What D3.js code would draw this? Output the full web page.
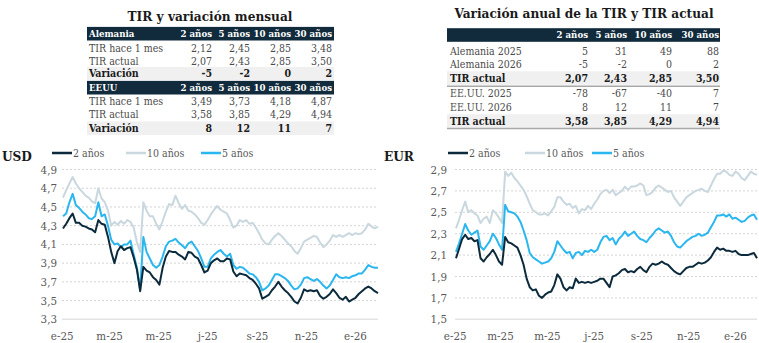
<!DOCTYPE html>
<html>
<head>
<meta charset="utf-8">
<script src="https://cdn.jsdelivr.net/npm/d3@7"></script>
<style>
  body { margin: 0; background: #fff; }
  text { font-family: "DejaVu Serif Condensed", "DejaVu Serif", serif; }
</style>
</head>
<body>
<svg id="chart" width="759" height="343"></svg>
<script>
// ---- tablas ----
const tenors = ["2 años", "5 años", "10 años", "30 años"];
const deHace1Mes = [2.12, 2.45, 2.85, 3.48];
const deActual = [2.07, 2.43, 2.85, 3.50];
const deVariacion = [-5, -2, 0, 2];
const usHace1Mes = [3.49, 3.73, 4.18, 4.87];
const usActual = [3.58, 3.85, 4.29, 4.94];
const usVariacion = [8, 12, 11, 7];
const de2025 = [5, 31, 49, 88];
const de2026 = [-5, -2, 0, 2];
const us2025 = [-78, -67, -40, 7];
const us2026 = [8, 12, 11, 7];

// ---- series (una muestra cada 4 días desde el 2-ene-2025) ----
const dates = d3.timeDay.range(new Date(2025, 0, 2), new Date(2026, 0, 30), 4);

const usd2y = [4.27, 4.32, 4.38, 4.43, 4.33, 4.33, 4.30, 4.29, 4.27, 4.26,
  4.23, 4.36, 4.32, 4.31, 4.18, 4.02, 3.90, 4.03, 4.08, 4.04,
  4.06, 4.07, 3.96, 3.83, 3.60, 3.86, 3.82, 3.80, 3.75, 3.72,
  3.67, 3.85, 3.97, 4.03, 4.02, 4.02, 3.99, 3.97, 3.94, 4.02,
  4.01, 3.97, 3.95, 3.88, 3.80, 3.82, 3.90, 3.93, 3.95, 3.92,
  3.92, 3.95, 3.94, 3.81, 3.76, 3.79, 3.78, 3.77, 3.74, 3.72,
  3.68, 3.63, 3.52, 3.54, 3.56, 3.61, 3.65, 3.70, 3.65, 3.61,
  3.58, 3.54, 3.49, 3.47, 3.53, 3.62, 3.60, 3.61, 3.60, 3.61,
  3.55, 3.52, 3.54, 3.57, 3.62, 3.58, 3.53, 3.51, 3.54, 3.49,
  3.51, 3.53, 3.57, 3.60, 3.63, 3.65, 3.63, 3.60, 3.58];
const usd5y = [4.40, 4.43, 4.55, 4.64, 4.52, 4.49, 4.45, 4.42, 4.38, 4.37,
  4.40, 4.55, 4.40, 4.42, 4.30, 4.15, 4.10, 4.11, 4.07, 4.10,
  4.10, 4.14, 3.99, 3.85, 3.62, 4.18, 4.02, 3.95, 3.88, 3.85,
  3.88, 3.97, 4.08, 4.13, 4.14, 4.16, 4.12, 4.09, 4.06, 4.11,
  4.13, 4.08, 4.03, 3.95, 3.86, 3.86, 3.95, 3.99, 4.02, 4.04,
  4.00, 3.97, 4.00, 3.88, 3.84, 3.86, 3.85, 3.82, 3.79, 3.78,
  3.75, 3.70, 3.61, 3.63, 3.66, 3.72, 3.78, 3.78, 3.76, 3.74,
  3.71, 3.66, 3.62, 3.63, 3.67, 3.74, 3.75, 3.73, 3.71, 3.73,
  3.70, 3.66, 3.63, 3.66, 3.72, 3.78, 3.75, 3.74, 3.75, 3.74,
  3.76, 3.77, 3.79, 3.79, 3.83, 3.88, 3.86, 3.85, 3.85];
const usd10y = [4.60, 4.68, 4.75, 4.82, 4.75, 4.70, 4.66, 4.62, 4.60, 4.56,
  4.54, 4.70, 4.59, 4.55, 4.46, 4.30, 4.34, 4.31, 4.35, 4.32,
  4.36, 4.34, 4.28, 4.12, 4.02, 4.55, 4.46, 4.40, 4.40, 4.32,
  4.26, 4.35, 4.45, 4.53, 4.52, 4.62, 4.54, 4.48, 4.52, 4.46,
  4.45, 4.42, 4.38, 4.33, 4.31, 4.36, 4.42, 4.47, 4.51, 4.47,
  4.45, 4.43, 4.36, 4.28, 4.30, 4.36, 4.34, 4.36, 4.32, 4.33,
  4.28, 4.22, 4.15, 4.11, 4.10, 4.15, 4.19, 4.22, 4.19, 4.15,
  4.11, 4.08, 4.03, 4.00, 4.06, 4.13, 4.15, 4.17, 4.19, 4.18,
  4.12, 4.07, 4.10, 4.14, 4.20, 4.18, 4.20, 4.18, 4.20, 4.22,
  4.20, 4.22, 4.21, 4.22, 4.26, 4.32, 4.29, 4.27, 4.29];

const eur2y = [2.07, 2.16, 2.25, 2.29, 2.25, 2.26, 2.23, 2.24, 2.07, 2.04,
  2.08, 2.11, 2.15, 2.10, 2.04, 2.01, 2.27, 2.22, 2.21, 2.19,
  2.17, 2.10, 2.01, 1.88, 1.80, 1.77, 1.78, 1.72, 1.70, 1.73,
  1.75, 1.76, 1.82, 1.92, 1.88, 1.80, 1.77, 1.80, 1.79, 1.88,
  1.84, 1.85, 1.84, 1.85, 1.84, 1.85, 1.86, 1.88, 1.88, 1.84,
  1.80, 1.90, 1.91, 1.93, 1.96, 1.97, 1.94, 1.95, 1.94, 1.97,
  1.99, 1.96, 1.94, 1.99, 2.02, 2.01, 2.02, 2.04, 2.02, 2.01,
  1.98, 1.95, 1.93, 1.92, 1.95, 1.98, 1.99, 1.99, 2.01, 2.03,
  2.02, 2.03, 2.05, 2.08, 2.13, 2.17, 2.15, 2.16, 2.14, 2.14,
  2.13, 2.14, 2.11, 2.10, 2.10, 2.10, 2.11, 2.12, 2.07];
const eur5y = [2.13, 2.21, 2.30, 2.39, 2.33, 2.29, 2.31, 2.33, 2.18, 2.15,
  2.19, 2.23, 2.30, 2.26, 2.20, 2.15, 2.57, 2.51, 2.50, 2.49,
  2.46, 2.41, 2.33, 2.24, 2.12, 2.08, 2.06, 2.04, 2.02, 2.03,
  2.04, 2.07, 2.13, 2.23, 2.19, 2.15, 2.12, 2.13, 2.07, 2.12,
  2.13, 2.10, 2.14, 2.13, 2.15, 2.13, 2.15, 2.22, 2.27, 2.28,
  2.24, 2.26, 2.20, 2.25, 2.28, 2.32, 2.28, 2.30, 2.32, 2.28,
  2.25, 2.24, 2.22, 2.26, 2.29, 2.33, 2.35, 2.33, 2.31, 2.32,
  2.28, 2.22, 2.18, 2.17, 2.20, 2.23, 2.25, 2.27, 2.28, 2.30,
  2.28, 2.29, 2.31, 2.36, 2.41, 2.47, 2.47, 2.48, 2.46, 2.48,
  2.44, 2.45, 2.43, 2.41, 2.42, 2.45, 2.47, 2.48, 2.43];
const eur10y = [2.35, 2.43, 2.52, 2.60, 2.50, 2.52, 2.49, 2.47, 2.40, 2.44,
  2.46, 2.40, 2.52, 2.49, 2.45, 2.40, 2.88, 2.84, 2.87, 2.82,
  2.79, 2.75, 2.71, 2.65, 2.58, 2.52, 2.50, 2.48, 2.48, 2.49,
  2.47, 2.51, 2.55, 2.64, 2.64, 2.60, 2.57, 2.58, 2.54, 2.56,
  2.49, 2.53, 2.52, 2.56, 2.53, 2.58, 2.62, 2.67, 2.70, 2.71,
  2.68, 2.71, 2.66, 2.68, 2.70, 2.74, 2.71, 2.74, 2.74, 2.75,
  2.77, 2.75, 2.66, 2.67, 2.69, 2.73, 2.75, 2.73, 2.71, 2.69,
  2.70, 2.64, 2.60, 2.56, 2.60, 2.64, 2.66, 2.68, 2.70, 2.71,
  2.72, 2.70, 2.69, 2.75, 2.81, 2.86, 2.86, 2.89, 2.88, 2.85,
  2.84, 2.88, 2.86, 2.82, 2.80, 2.84, 2.88, 2.86, 2.85];

const usdTicks = [3.3, 3.5, 3.7, 3.9, 4.1, 4.3, 4.5, 4.7, 4.9];
const eurTicks = [1.5, 1.7, 1.9, 2.1, 2.3, 2.5, 2.7, 2.9];
const mesInicial = ["e", "f", "m", "a", "m", "j", "j", "a", "s", "o", "n", "d"];

const colores = { "2 años": "#0b2a3c", "10 años": "#c9d7df", "5 años": "#2ab6ef" };
const navy = "#112b3c";

const es = d3.formatLocale({ decimal: ",", thousands: ".", grouping: [3], currency: ["", "€"] });
const f2 = es.format(".2f");
const f1 = es.format(".1f");

const svg = d3.select("#chart");
svg.append("rect").attr("width", 759).attr("height", 343).attr("fill", "#fff");

// ---- tablas ----
function drawTable(cfg) {
  const g = svg.append("g");
  g.append("text")
    .attr("x", cfg.titleX).attr("y", cfg.titleY)
    .attr("text-anchor", "middle")
    .attr("font-size", 13.5).attr("font-weight", "bold").attr("fill", "#1a1a1a")
    .text(cfg.title);

  cfg.rows.forEach(r => {
    if (r.type === "head") {
      g.append("rect").attr("x", cfg.x0).attr("y", r.y - 6.8)
        .attr("width", cfg.x1 - cfg.x0).attr("height", 13.6).attr("fill", navy);
    } else if (r.type === "bold") {
      g.append("rect").attr("x", cfg.x0).attr("y", r.y - 6.8)
        .attr("width", cfg.x1 - cfg.x0).attr("height", 13.6).attr("fill", "#f0f0f0");
    }
    if (r.line) {
      g.append("line").attr("x1", cfg.x0).attr("x2", cfg.x1)
        .attr("y1", r.y + r.line).attr("y2", r.y + r.line)
        .attr("stroke", "#a8a8a8").attr("stroke-width", 1.5);
    }
    const bold = r.type !== "row";
    const size = r.type === "head" ? 9.6 : 10.5;
    const fill = r.type === "head" ? "#fff" : (r.type === "bold" ? "#1a1a1a" : "#4a4a4a");
    g.append("text")
      .attr("x", cfg.labelX).attr("y", r.y).attr("dy", "0.36em")
      .attr("font-size", size).attr("font-weight", bold ? "bold" : "normal")
      .attr("fill", fill).text(r.label);
    r.values.forEach((v, i) => {
      g.append("text")
        .attr("x", cfg.colRight[i]).attr("y", r.y).attr("dy", "0.36em")
        .attr("text-anchor", "end")
        .attr("font-size", size).attr("font-weight", bold ? "bold" : "normal")
        .attr("fill", fill)
        .text(r.fmt ? r.fmt(v) : v);
    });
  });
}

drawTable({
  title: "TIR y variación mensual", titleX: 210, titleY: 20.5,
  x0: 87, x1: 334, labelX: 89, colRight: [212, 250, 291, 332],
  rows: [
    { type: "head", y: 33.7, label: "Alemania", values: tenors },
    { type: "row", y: 48.5, label: "TIR hace 1 mes", values: deHace1Mes, fmt: f2 },
    { type: "row", y: 61, label: "TIR actual", values: deActual, fmt: f2 },
    { type: "bold", y: 73.7, label: "Variación", values: deVariacion },
    { type: "head", y: 87.7, label: "EEUU", values: tenors },
    { type: "row", y: 101, label: "TIR hace 1 mes", values: usHace1Mes, fmt: f2 },
    { type: "row", y: 114.5, label: "TIR actual", values: usActual, fmt: f2 },
    { type: "bold", y: 128.2, label: "Variación", values: usVariacion }
  ]
});

drawTable({
  title: "Variación anual de la TIR y TIR actual", titleX: 584, titleY: 18,
  x0: 447, x1: 720, labelX: 450, colRight: [588, 627, 672, 719],
  rows: [
    { type: "head", y: 35, label: "", values: tenors },
    { type: "row", y: 51, label: "Alemania 2025", values: de2025 },
    { type: "row", y: 64.5, label: "Alemania 2026", values: de2026 },
    { type: "bold", y: 78, label: "TIR actual", values: deActual, fmt: f2, line: 8.3 },
    { type: "row", y: 93.5, label: "EE.UU. 2025", values: us2025 },
    { type: "row", y: 107, label: "EE.UU. 2026", values: us2026 },
    { type: "bold", y: 121, label: "TIR actual", values: usActual, fmt: f2, line: 7.5 }
  ]
});

// ---- gráficos ----
function drawChart(cfg) {
  const g = svg.append("g");
  const x = d3.scaleTime()
    .domain([dates[0], dates[dates.length - 1]])
    .range([cfg.x0, cfg.x1]);
  const y = d3.scaleLinear()
    .domain([cfg.ticks[0], cfg.ticks[cfg.ticks.length - 1]])
    .range([319.3, 169.5]);

  g.append("text").attr("x", cfg.labelX).attr("y", 161)
    .attr("font-size", 13.5).attr("font-weight", "bold").attr("fill", "#1a1a1a")
    .text(cfg.name);

  // rejilla
  g.selectAll(".grid").data(cfg.ticks).enter().append("line")
    .attr("x1", cfg.gridX0).attr("x2", cfg.x1)
    .attr("y1", d => y(d)).attr("y2", d => y(d))
    .attr("stroke", (d, i) => i === 0 ? "#e3e3e3" : "#d4d4d4")
    .attr("stroke-width", (d, i) => i === 0 ? 1.5 : 1)
    .attr("stroke-dasharray", (d, i) => i === 0 ? null : "2,2");

  g.selectAll(".ylab").data(cfg.ticks).enter().append("text")
    .attr("x", cfg.yLabX).attr("y", d => y(d)).attr("dy", "0.35em")
    .attr("text-anchor", "end").attr("font-size", 11.5).attr("fill", "#595959")
    .text(d => f1(d));

  const xt = d3.timeMonth.every(2).range(new Date(2025, 0, 1), new Date(2026, 0, 2));
  g.selectAll(".xlab").data(xt).enter().append("text")
    .attr("x", d => x(d)).attr("y", 340)
    .attr("text-anchor", "middle").attr("font-size", 11.5).attr("fill", "#595959")
    .text(d => mesInicial[d.getMonth()] + "-" + String(d.getFullYear()).slice(2));

  const line = d3.line().x((d, i) => x(dates[i])).y(d => y(d));
  [["10 años", cfg.s10], ["5 años", cfg.s5], ["2 años", cfg.s2]].forEach(([k, s]) => {
    g.append("path").datum(s)
      .attr("fill", "none").attr("stroke", colores[k])
      .attr("stroke-width", 2).attr("stroke-linejoin", "round")
      .attr("d", line);
  });

  // leyenda
  cfg.legend.forEach(([k, lx]) => {
    g.append("line").attr("x1", lx).attr("x2", lx + 20)
      .attr("y1", 153).attr("y2", 153)
      .attr("stroke", colores[k]).attr("stroke-width", 2.5);
    g.append("text").attr("x", lx + 21).attr("y", 153).attr("dy", "0.35em")
      .attr("font-size", 10.5).attr("fill", "#595959").text(k);
  });
}

drawChart({
  name: "USD", labelX: 2, x0: 63, x1: 378, gridX0: 62, yLabX: 57,
  ticks: usdTicks, s2: usd2y, s5: usd5y, s10: usd10y,
  legend: [["2 años", 52], ["10 años", 126], ["5 años", 201]]
});

drawChart({
  name: "EUR", labelX: 384, x0: 456, x1: 757, gridX0: 455, yLabX: 447,
  ticks: eurTicks, s2: eur2y, s5: eur5y, s10: eur10y,
  legend: [["2 años", 448], ["10 años", 525], ["5 años", 592]]
});
</script>
</body>
</html>
